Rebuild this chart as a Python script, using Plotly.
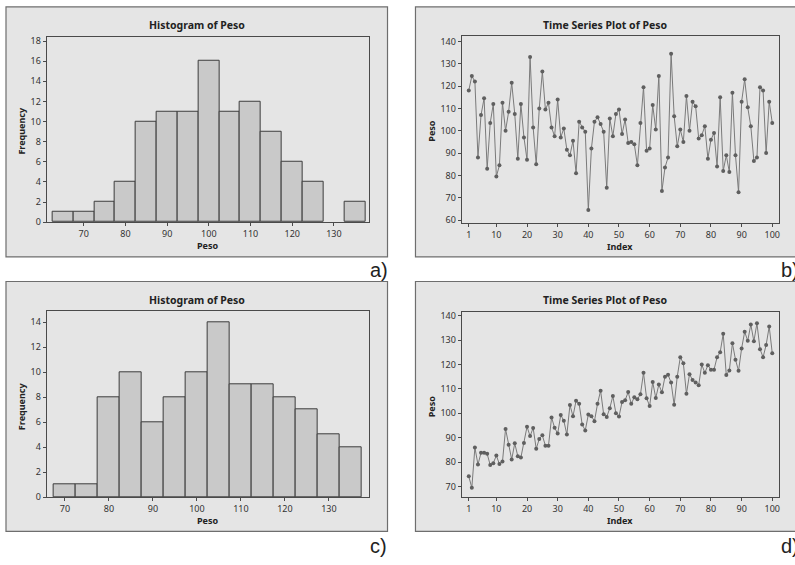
import plotly.graph_objects as go

W, H = 795, 565

# ---------------- data ----------------
hist_a_centers = [65, 70, 75, 80, 85, 90, 95, 100, 105, 110, 115, 120, 125, 130, 135]
hist_a_counts = [1, 1, 2, 4, 10, 11, 11, 16, 11, 12, 9, 6, 4, 0, 2]
hist_a_yticks = [0, 2, 4, 6, 8, 10, 12, 14, 16, 18]

hist_c_centers = [70, 75, 80, 85, 90, 95, 100, 105, 110, 115, 120, 125, 130, 135]
hist_c_counts = [1, 1, 8, 10, 6, 8, 10, 14, 9, 9, 8, 7, 5, 4]
hist_c_yticks = [0, 2, 4, 6, 8, 10, 12, 14]

hist_xticks = [70, 80, 90, 100, 110, 120, 130]

index = list(range(1, 101))
index_ticks = [1, 10, 20, 30, 40, 50, 60, 70, 80, 90, 100]

peso_b = [118, 124.5, 122, 88, 107, 114.5, 83, 103.5, 112, 79.5,
          84.5, 112.5, 100, 108.5, 121.5, 107.5, 87.5, 112, 97, 87,
          133, 101.5, 85, 110, 126.5, 109.5, 112.5, 101.5, 97.5, 114,
          97, 101, 91.5, 89, 95.5, 81, 104, 101.5, 99.5, 64.5,
          92, 104, 106, 103, 99.5, 74.5, 105.5, 97.5, 107.5, 109.5,
          98.5, 105, 94.5, 95, 94, 84.5, 103.5, 119.5, 91, 92,
          111.5, 100.5, 124.5, 73, 83.5, 88, 134.5, 106.5, 93, 100.5,
          95, 115.5, 100, 113, 111, 96.5, 98, 102, 87.5, 96,
          99, 84, 115, 82, 89, 81.5, 117, 89, 72.5, 113,
          123, 110.5, 102, 86.5, 88, 119.5, 118, 90, 113, 103.5]
peso_b_yticks = [60, 70, 80, 90, 100, 110, 120, 130, 140]

peso_d = [74.2, 69.5, 86, 79, 83.8, 83.8, 83.4, 78.8, 79.6, 82.7,
          79.2, 80.3, 93.6, 87.1, 81.1, 87.7, 82.4, 81.9, 87.8, 94.5,
          90.7, 94, 85.5, 89.5, 91, 86.7, 86.7, 98.3, 94.1, 91.7,
          99.3, 97, 91.3, 103.4, 98.8, 105.2, 103.9, 95.4, 93, 99.5,
          98.8, 96.8, 103.9, 109.3, 99.6, 98.5, 102.1, 107.1, 100, 98.7,
          104.6, 105.4, 108.7, 103.9, 106.6, 105.8, 107.8, 116.6, 106.2, 103,
          112.8, 106.3, 111.8, 108.6, 115, 115.8, 112.6, 103.5, 115, 123,
          120.5, 108, 116, 113.7, 112.6, 111.5, 120, 116.6, 119.7, 117.9,
          117.9, 123, 125, 132.6, 115.7, 117.6, 128.7, 122, 117.4, 126.6,
          133.4, 129.7, 136.4, 129.5, 136.9, 126.3, 123, 128, 135.6, 124.6]
peso_d_yticks = [70, 80, 90, 100, 110, 120, 130, 140]

# ---------------- helpers ----------------
def px_x(p):
    return p / W

def px_y(p):
    return 1 - p / H

FONT = "Noto Sans"
TICK_FONT = dict(family=FONT, size=9, color="#333333")
TITLE_FONT = dict(family=FONT, size=10.5, color="#222222")
AX_FONT = dict(family=FONT, size=9, color="#222222")
LABEL_FONT = dict(family="Liberation Sans", size=20, color="#222222")

BAR_FILL = "#c9c9c9"
BAR_LINE = "#3c3c3c"
LINE_COL = "#7a7a7a"
MARK_COL = "#5f5f5f"
PANEL_BG = "#e5e5e5"
PANEL_LINE = "#6e6e6e"
AXIS_LINE = "#4a4a4a"

# plot-area pixel boxes (left, right, top, bottom)
areas = {
    "a": (46.7, 369.0, 34.3, 222.7),
    "b": (462.3, 780.0, 34.0, 224.0),
    "c": (46.7, 369.0, 313.3, 502.3),
    "d": (462.3, 780.0, 314.3, 502.3),
}
# panel pixel boxes (left, right, top, bottom)
panels = {
    "a": (6, 388, 4, 258),
    "b": (416, 800, 4, 258),
    "c": (6, 388, 283, 537),
    "d": (416, 800, 283, 537),
}

fig = go.Figure()

def bar_edges(counts):
    # no outline for empty bins (nothing drawn there)
    return [1 if c > 0 else 0 for c in counts]

# --- traces ---
fig.add_trace(go.Bar(x=hist_a_centers, y=hist_a_counts, width=5,
                     marker=dict(color=BAR_FILL,
                                 line=dict(color=BAR_LINE, width=bar_edges(hist_a_counts))),
                     xaxis="x", yaxis="y", showlegend=False))
fig.add_trace(go.Scatter(x=index, y=peso_b, mode="lines+markers",
                         line=dict(color=LINE_COL, width=1),
                         marker=dict(color=MARK_COL, size=4),
                         xaxis="x2", yaxis="y2", showlegend=False))
fig.add_trace(go.Bar(x=hist_c_centers, y=hist_c_counts, width=5,
                     marker=dict(color=BAR_FILL,
                                 line=dict(color=BAR_LINE, width=bar_edges(hist_c_counts))),
                     xaxis="x3", yaxis="y3", showlegend=False))
fig.add_trace(go.Scatter(x=index, y=peso_d, mode="lines+markers",
                         line=dict(color=LINE_COL, width=1),
                         marker=dict(color=MARK_COL, size=4),
                         xaxis="x4", yaxis="y4", showlegend=False))

def axis(dom, rng, tickvals, anchor):
    return dict(domain=dom, range=rng, tickvals=tickvals, anchor=anchor,
                showgrid=False, zeroline=False, showline=True, mirror=True,
                linecolor=AXIS_LINE, linewidth=1, ticks="outside", ticklen=3,
                tickcolor=AXIS_LINE, tickwidth=1, tickfont=TICK_FONT,
                fixedrange=True)

def xdom(k):
    l, r, t, b = areas[k]
    return [px_x(l), px_x(r)]

def ydom(k):
    l, r, t, b = areas[k]
    return [px_y(b), px_y(t)]

fig.update_layout(
    xaxis=axis(xdom("a"), [61.1, 138.3], hist_xticks, "y"),
    yaxis=axis(ydom("a"), [0, 18.43], hist_a_yticks, "x"),
    xaxis2=axis(xdom("b"), [-1.3, 102.2], index_ticks, "y2"),
    yaxis2=axis(ydom("b"), [58.5, 142.2], peso_b_yticks, "x2"),
    xaxis3=axis(xdom("c"), [65.84, 139.0], hist_xticks, "y3"),
    yaxis3=axis(ydom("c"), [0, 14.86], hist_c_yticks, "x3"),
    xaxis4=axis(xdom("d"), [-1.3, 102.2], index_ticks, "y4"),
    yaxis4=axis(ydom("d"), [65.6, 141.4], peso_d_yticks, "x4"),
)

# --- panel backgrounds ---
shapes = []
for k, (l, r, t, b) in panels.items():
    shapes.append(dict(type="rect", xref="paper", yref="paper",
                       x0=px_x(l), x1=px_x(r), y0=px_y(b), y1=px_y(t),
                       fillcolor=PANEL_BG, line=dict(color=PANEL_LINE, width=1.2),
                       layer="below"))

# --- texts ---
annotations = []
def text(s, x, y, font, angle=0, xanchor="center"):
    annotations.append(dict(text=s, x=px_x(x), y=px_y(y), xref="paper", yref="paper",
                            showarrow=False, font=font, textangle=angle,
                            xanchor=xanchor, yanchor="middle"))

text("<b>Histogram of Peso</b>", 197, 22.7, TITLE_FONT)
text("<b>Time Series Plot of Peso</b>", 606.5, 22.7, TITLE_FONT)
text("<b>Histogram of Peso</b>", 197, 302, TITLE_FONT)
text("<b>Time Series Plot of Peso</b>", 606.5, 302, TITLE_FONT)

text("<b>Peso</b>", 208, 246.5, AX_FONT)
text("<b>Index</b>", 621, 247.5, AX_FONT)
text("<b>Peso</b>", 208, 526, AX_FONT)
text("<b>Index</b>", 621, 526, AX_FONT)

text("<b>Frequency</b>", 21.7, 130, AX_FONT, angle=-90)
text("<b>Peso</b>", 432.3, 130, AX_FONT, angle=-90)
text("<b>Frequency</b>", 21.7, 410, AX_FONT, angle=-90)
text("<b>Peso</b>", 432.3, 410, AX_FONT, angle=-90)

text("a)", 368, 271, LABEL_FONT, xanchor="left")
text("b)", 780, 271, LABEL_FONT, xanchor="left")
text("c)", 368, 552, LABEL_FONT, xanchor="left")
text("d)", 780, 552, LABEL_FONT, xanchor="left")

fig.update_layout(
    width=W, height=H, margin=dict(l=0, r=0, t=0, b=0),
    paper_bgcolor="white", plot_bgcolor="white",
    shapes=shapes, annotations=annotations, bargap=0,
    showlegend=False,
)

fig.write_html("out.html", config={"displayModeBar": False})
